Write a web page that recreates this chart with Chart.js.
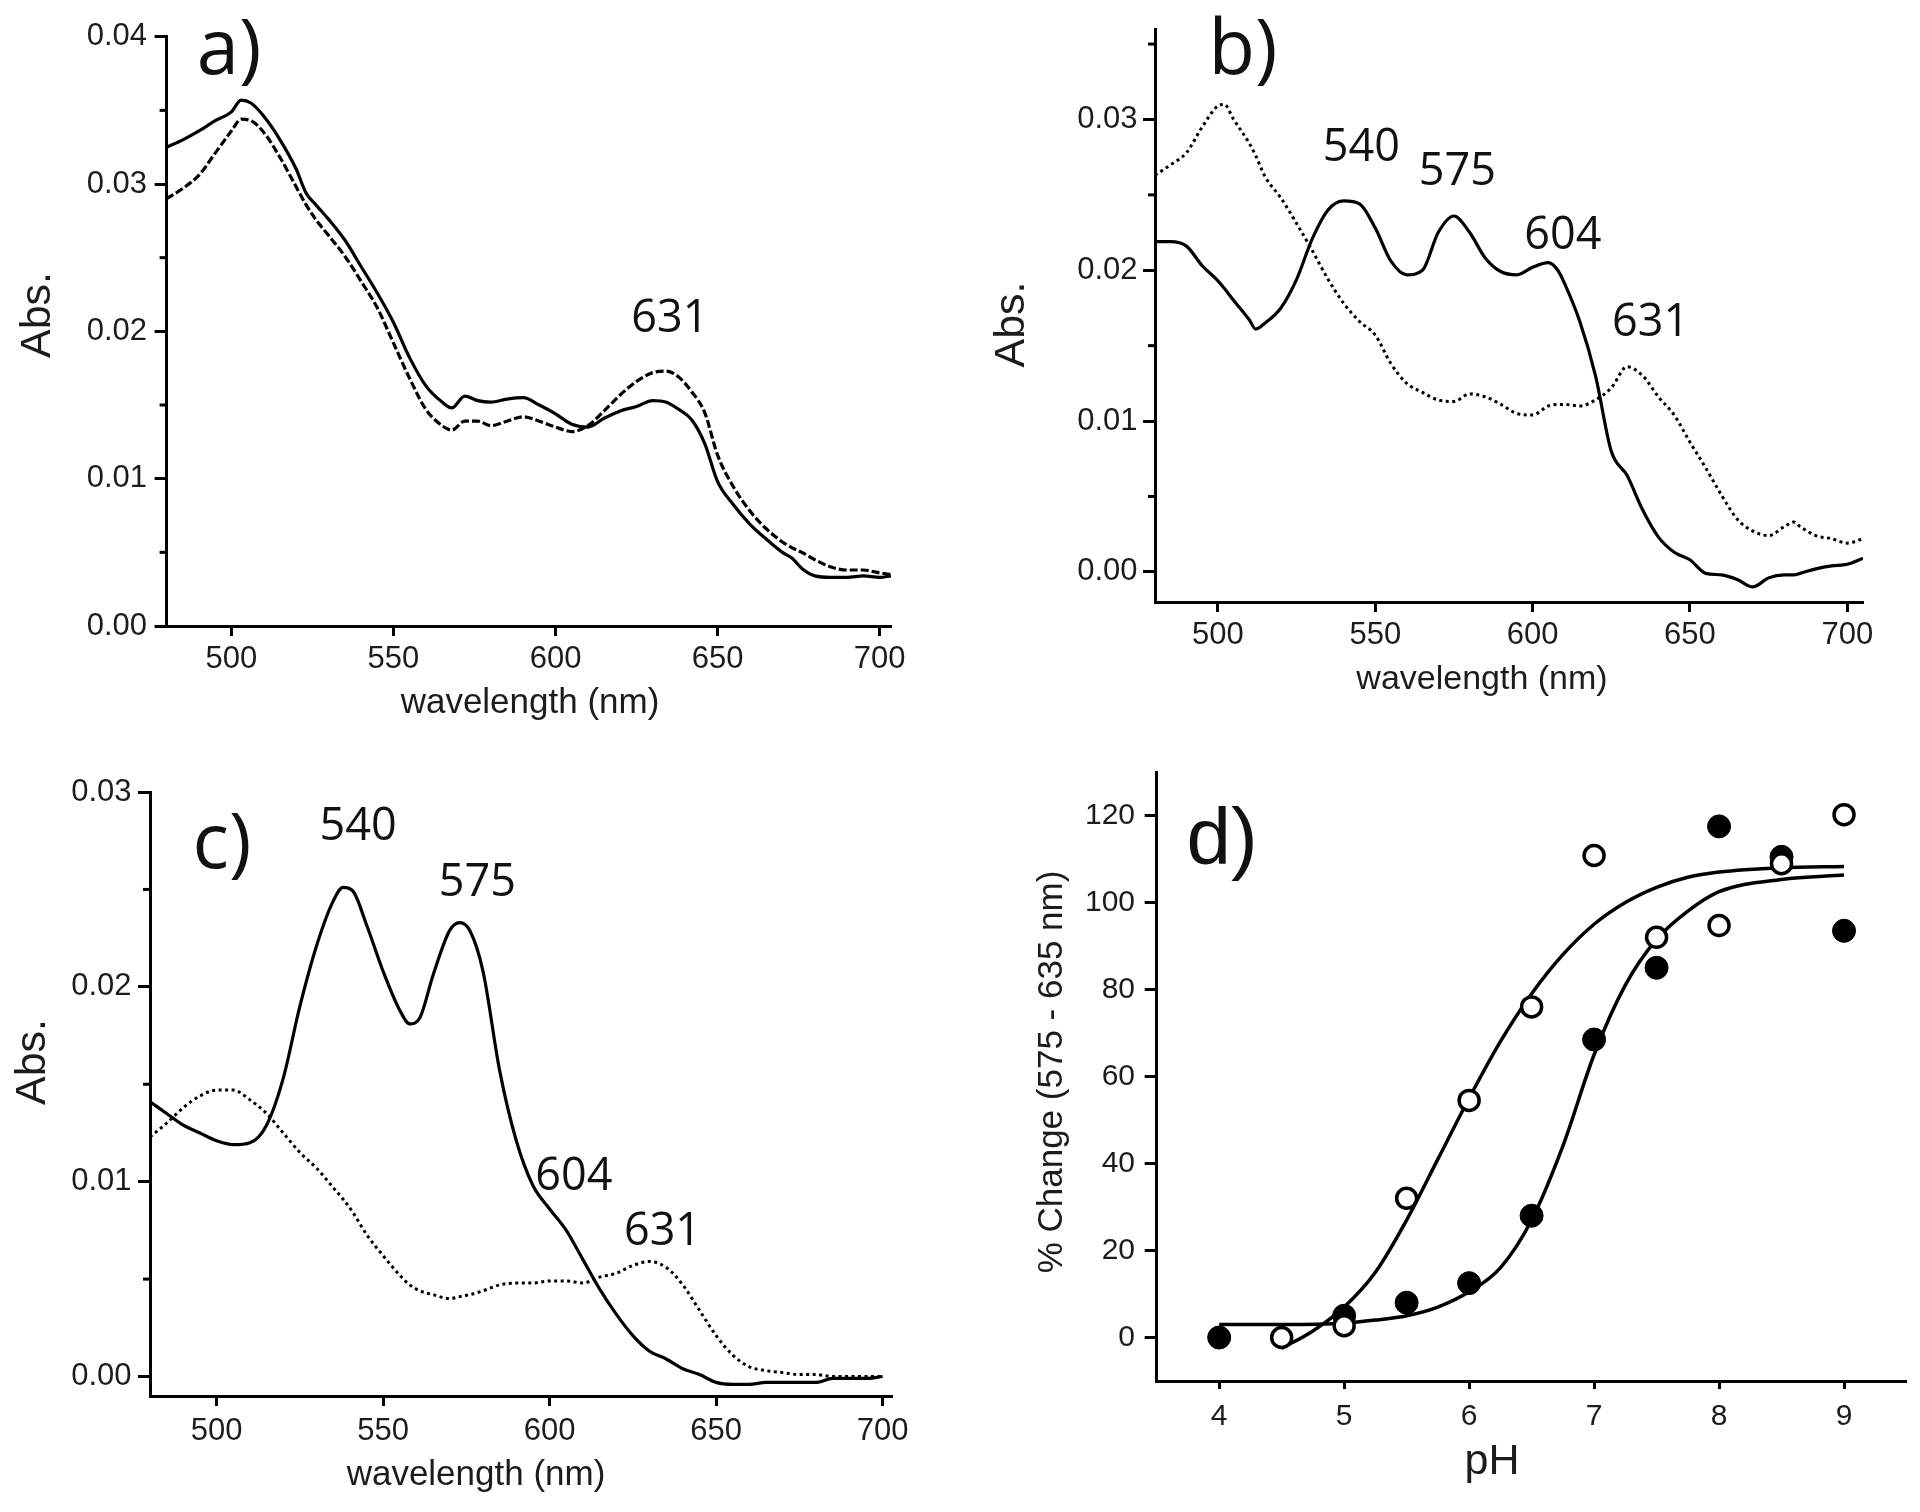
<!DOCTYPE html>
<html><head><meta charset="utf-8">
<script src="https://cdn.jsdelivr.net/npm/chart.js@4.4.1/dist/chart.umd.min.js"></script>
<style>
html,body{margin:0;padding:0;background:#fff;}
#wrap{position:relative;width:1920px;height:1512px;overflow:hidden;}
canvas{position:absolute;}
</style></head><body><div id="wrap">
<canvas id="ca" width="960" height="740" style="left:0px;top:0px"></canvas>
<canvas id="cb" width="960" height="740" style="left:960px;top:0px"></canvas>
<canvas id="cc" width="960" height="772" style="left:0px;top:740px"></canvas>
<canvas id="cd" width="960" height="772" style="left:960px;top:740px"></canvas>
</div>
<script>
// ---------- Panel a ----------
const aWave = [480,485,490,495,500,503,506,510,515,520,523,526,530,535,540,545,550,555,560,565,568,572,576,580,585,590,595,600,605,610,615,620,625,630,634,638,642,646,650,655,660,665,670,673,676,680,685,690,695,700,703.5];
const aSolid = [0.0325,0.0330,0.0336,0.0343,0.0349,0.0357,0.0355,0.0346,0.0330,0.0310,0.0294,0.0286,0.0276,0.0262,0.0244,0.0226,0.0206,0.0182,0.0163,0.0152,0.0148,0.0156,0.0153,0.0152,0.0154,0.0155,0.0150,0.0144,0.0137,0.0135,0.0141,0.0146,0.0149,0.0153,0.0152,0.0147,0.0140,0.0124,0.0098,0.0082,0.0069,0.0059,0.0050,0.0046,0.0039,0.0034,0.0033,0.0033,0.0034,0.0033,0.0034];
const aDashed = [0.0290,0.0297,0.0306,0.0321,0.0336,0.0344,0.0343,0.0335,0.0318,0.0298,0.0286,0.0276,0.0265,0.0251,0.0234,0.0216,0.0192,0.0168,0.0147,0.0136,0.0133,0.0139,0.0139,0.0136,0.0139,0.0142,0.0139,0.0135,0.0132,0.0136,0.0146,0.0157,0.0166,0.0172,0.0173,0.0169,0.0159,0.0145,0.0116,0.0094,0.0078,0.0066,0.0057,0.0053,0.0050,0.0045,0.0040,0.0038,0.0038,0.0036,0.0035];
const aYTicks = [0,0.01,0.02,0.03,0.04];
const aYMinor = [0.005,0.015,0.025,0.035];

// ---------- Panel b ----------
const bWave = [480,485,490,495,500,502,505,510,512,515,520,525,530,535,540,545,550,555,560,565,570,575,580,585,590,595,600,605,608,610,615,620,625,630,635,640,645,650,655,660,665,670,675,680,683,685,690,695,700,705];
const bSolid = [0.0219,0.0219,0.0216,0.0203,0.0193,0.0188,0.0180,0.0167,0.0161,0.0165,0.0175,0.0194,0.0221,0.0240,0.0246,0.0244,0.0228,0.0206,0.0197,0.0200,0.0225,0.0236,0.0225,0.0208,0.0199,0.0197,0.0202,0.0205,0.0200,0.0192,0.0166,0.0130,0.0080,0.0064,0.0041,0.0023,0.0013,0.0008,-0.0001,-0.0002,-0.0005,-0.0010,-0.0004,-0.0002,-0.0002,-0.0001,0.0002,0.0004,0.0005,0.0009];
const bDotted = [0.0263,0.0270,0.0278,0.0295,0.0309,0.0310,0.0300,0.0284,0.0276,0.0262,0.0248,0.0231,0.0213,0.0194,0.0178,0.0166,0.0157,0.0138,0.0125,0.0119,0.0114,0.0113,0.0118,0.0116,0.0111,0.0105,0.0104,0.0110,0.0111,0.0111,0.0110,0.0114,0.0122,0.0136,0.0130,0.0116,0.0104,0.0086,0.0069,0.0051,0.0035,0.0027,0.0024,0.0030,0.0033,0.0030,0.0024,0.0022,0.0019,0.0022];
const bYTicks = [0,0.01,0.02,0.03];
const bYMinor = [0.005,0.015,0.025,0.035];

// ---------- Panel c ----------
const cWave = [480,485,490,495,500,505,510,515,520,525,530,535,538,541,545,550,555,558,561,565,570,573,576,580,585,590,595,600,605,610,615,620,625,630,635,640,645,650,655,660,665,670,675,680,685,690,695,700];
const cSolid = [0.0141,0.0135,0.0129,0.0125,0.0121,0.0119,0.0120,0.0129,0.0153,0.0190,0.0221,0.0244,0.0251,0.0249,0.0232,0.0208,0.0188,0.0181,0.0184,0.0206,0.0229,0.0233,0.0229,0.0208,0.0157,0.0121,0.0098,0.0086,0.0075,0.0060,0.0045,0.0032,0.0021,0.0013,0.0009,0.0004,0.0001,-0.0003,-0.0004,-0.0004,-0.0003,-0.0003,-0.0003,-0.0003,-0.0001,-0.0001,-0.0001,0.0000];
const cDotted = [0.0123,0.0130,0.0138,0.0144,0.0147,0.0147,0.0142,0.0135,0.0125,0.0115,0.0107,0.0097,0.0091,0.0084,0.0073,0.0062,0.0052,0.0047,0.0044,0.0042,0.0040,0.0041,0.0042,0.0044,0.0047,0.0048,0.0048,0.0049,0.0049,0.0048,0.0051,0.0053,0.0057,0.0059,0.0056,0.0047,0.0034,0.0021,0.0011,0.0005,0.0003,0.0002,0.0001,0.0001,0.0000,0.0000,0.0000,0.0000];
const cYTicks = [0,0.01,0.02,0.03];
const cYMinor = [0.005,0.015,0.025];

const waveTicks = [500,550,600,650,700];

// ---------- Panel d ----------
const dPhFilled = [4,5,5.5,6,6.5,7,7.5,8,8.5,9];
const dFilled = [0,5,8,12.5,28,68.5,85,117.5,110.5,93.5];
const dPhOpen = [4.5,5,5.5,6,6.5,7,7.5,8,8.5,9];
const dOpen = [0,2.7,32,54.5,76,110.8,92,94.7,108.9,120.2];
const dFitFilledPh = [4,4.5,5,5.25,5.5,5.75,6,6.25,6.5,6.75,7,7.25,7.5,7.75,8,8.5,9];
const dFitFilled = [3,3,3.3,4,5,7,10.5,16,27,44,65,81,91.5,98,102.5,105.3,106.3];
const dFitOpenPh = [4.5,4.75,5,5.25,5.5,5.75,6,6.25,6.5,6.75,7,7.25,7.5,7.75,8,8.5,9];
const dFitOpen = [-2.5,1.5,7,15,27,41,55,68,79,88,95,100,103.5,105.8,107,108,108.3];
const dXTicks = [4,5,6,7,8,9];
const dYTicks = [0,20,40,60,80,100,120];

// ---------- helpers ----------
const pts = (xs, ys) => xs.map((x, i) => ({x: x, y: ys[i]}));
const TXT = '#1c1c1c';
const ARIAL = "'Liberation Sans', Arial, sans-serif";
const CAL = "'Open Sans', 'Noto Sans', sans-serif";

const textPlugin = {
  id: 'texts',
  afterDraw(chart, args, opts) {
    const ctx = chart.ctx;
    const off = opts.offset || [0, 0];
    (opts.items || []).forEach(it => {
      let x, y;
      if (it.data) {
        x = chart.scales.x.getPixelForValue(it.data[0]);
        y = chart.scales.y.getPixelForValue(it.data[1]);
      } else {
        x = it.px[0] - off[0];
        y = it.px[1] - off[1];
      }
      ctx.save();
      ctx.translate(x, y);
      if (it.rot) ctx.rotate(it.rot);
      ctx.font = it.font;
      ctx.fillStyle = it.color || TXT;
      ctx.textAlign = 'center';
      ctx.textBaseline = 'middle';
      ctx.fillText(it.text, 0, 0);
      ctx.restore();
    });
  }
};
const minorPlugin = {
  id: 'minorTicks',
  afterDraw(chart, args, opts) {
    const vals = opts.values || [];
    if (!vals.length) return;
    const s = chart.scales.y;
    const ctx = chart.ctx;
    ctx.save();
    ctx.strokeStyle = '#000';
    ctx.lineWidth = 3;
    vals.forEach(v => {
      const y = s.getPixelForValue(v);
      ctx.beginPath();
      ctx.moveTo(chart.chartArea.left - (opts.len || 7), y);
      ctx.lineTo(chart.chartArea.left, y);
      ctx.stroke();
    });
    ctx.restore();
  }
};
Chart.register(textPlugin, minorPlugin);

function axisX(min, max, ticks, h, pad, fontSize, tl) {
  return {
    type: 'linear', min: min, max: max,
    afterBuildTicks: s => { s.ticks = ticks.map(v => ({value: v})); },
    afterFit: s => { s.height = h; },
    border: {display: true, color: '#000', width: 3},
    grid: {display: true, drawOnChartArea: false, drawTicks: true, tickLength: tl, tickWidth: 3, tickColor: '#000'},
    ticks: {color: TXT, padding: pad, maxRotation: 0, autoSkip: false, font: {family: ARIAL, size: fontSize},
      callback: v => String(v)}
  };
}
function axisY(min, max, ticks, w, pad, fontSize, fmt) {
  return {
    type: 'linear', min: min, max: max,
    afterBuildTicks: s => { s.ticks = ticks.map(v => ({value: v})); },
    afterFit: s => { s.width = w; },
    border: {display: true, color: '#000', width: 3},
    grid: {display: true, drawOnChartArea: false, drawTicks: true, tickLength: 12, tickWidth: 3, tickColor: '#000'},
    ticks: {color: TXT, padding: pad, autoSkip: false, font: {family: ARIAL, size: fontSize}, callback: fmt}
  };
}
const fmt2 = v => v.toFixed(2);
const fmt0 = v => String(Math.round(v));

function lineDs(xs, ys, dash, width) {
  return {data: pts(xs, ys), showLine: true, borderColor: '#000', borderWidth: width || 3.2,
    borderDash: dash || [], pointRadius: 0, cubicInterpolationMode: 'monotone', fill: false, order: 2};
}
function baseOpts(padding, scales, texts, offset, minor) {
  return {
    responsive: false, animation: false, devicePixelRatio: 1,
    layout: {padding: padding},
    scales: scales,
    plugins: {legend: {display: false}, tooltip: {enabled: false},
      texts: {items: texts, offset: offset}, minorTicks: {values: minor, len: 7}}
  };
}

// ---------- Panel a ----------
new Chart(document.getElementById('ca'), {
  type: 'scatter',
  data: {datasets: [lineDs(aWave, aSolid), lineDs(aWave, aDashed, [8, 3])]},
  options: baseOpts({left: 0, top: 36.7, right: 69, bottom: 20},
    {x: axisX(480, 703.5, waveTicks, 94, 5, 31, 10), y: axisY(0, 0.04, aYTicks, 166.6, 7.6, 31, fmt2)},
    [
      {text: 'a)', px: [229, 52], font: "76px " + CAL, color: '#111'},
      {text: '631', data: [635.3, 0.0208], font: "45px " + CAL, color: '#111'},
      {text: 'Abs.', px: [38, 315], rot: -Math.PI / 2, font: "43px " + ARIAL},
      {text: 'wavelength (nm)', px: [530, 703], font: "35px " + ARIAL}
    ], [0, 0], aYMinor)
});

// ---------- Panel b ----------
new Chart(document.getElementById('cb'), {
  type: 'scatter',
  data: {datasets: [lineDs(bWave, bSolid), lineDs(bWave, bDotted, [3, 3.5], 3)]},
  options: baseOpts({left: 0, top: 29, right: 57, bottom: 20},
    {x: axisX(480, 705, waveTicks, 118, 4.4, 31, 10), y: axisY(-0.002, 0.036, bYTicks, 195, 5.4, 31, fmt2)},
    [
      {text: 'b)', px: [1243, 52], font: "76px " + CAL, color: '#111'},
      {text: '540', data: [545.6, 0.0281], font: "45px " + CAL, color: '#111'},
      {text: '575', data: [576.1, 0.0265], font: "45px " + CAL, color: '#111'},
      {text: '604', data: [609.6, 0.02227], font: "45px " + CAL, color: '#111'},
      {text: '631', data: [637.5, 0.01652], font: "45px " + CAL, color: '#111'},
      {text: 'Abs.', px: [1012, 324.5], rot: -Math.PI / 2, font: "43px " + ARIAL},
      {text: 'wavelength (nm)', px: [1482, 680], font: "34px " + ARIAL}
    ], [960, 0], bYMinor)
});

// ---------- Panel c ----------
new Chart(document.getElementById('cc'), {
  type: 'scatter',
  data: {datasets: [lineDs(cWave, cSolid), lineDs(cWave, cDotted, [3, 3.5], 3)]},
  options: baseOpts({left: 0, top: 52, right: 67.4, bottom: 20},
    {x: axisX(480, 703, waveTicks, 96, 6.5, 31, 10), y: axisY(-0.001, 0.03, cYTicks, 150, 6.4, 31, fmt2)},
    [
      {text: 'c)', px: [222, 846], font: "76px " + CAL, color: '#111'},
      {text: '540', data: [542.5, 0.02818], font: "45px " + CAL, color: '#111'},
      {text: '575', data: [578.3, 0.02533], font: "45px " + CAL, color: '#111'},
      {text: '604', data: [607.3, 0.01024], font: "45px " + CAL, color: '#111'},
      {text: '631', data: [633.9, 0.00739], font: "45px " + CAL, color: '#111'},
      {text: 'Abs.', px: [33, 1062], rot: -Math.PI / 2, font: "43px " + ARIAL},
      {text: 'wavelength (nm)', px: [476, 1475], font: "35px " + ARIAL}
    ], [0, 740], cYMinor)
});

// ---------- Panel d ----------
new Chart(document.getElementById('cd'), {
  type: 'scatter',
  data: {datasets: [
    Object.assign(lineDs(dFitFilledPh, dFitFilled, [], 3.5), {order: 3}),
    Object.assign(lineDs(dFitOpenPh, dFitOpen, [], 3.5), {order: 3}),
    {data: pts(dPhFilled, dFilled), pointRadius: 11.5, backgroundColor: '#000', borderColor: '#000', borderWidth: 1, showLine: false, order: 1},
    {data: pts(dPhOpen, dOpen), pointRadius: 10, backgroundColor: '#fff', borderColor: '#000', borderWidth: 3.5, showLine: false, order: 0}
  ]},
  options: baseOpts({left: 0, top: 32, right: 12.3, bottom: 20},
    {x: axisX(3.5, 9.5, dXTicks, 111, 10, 30, 8), y: axisY(-10, 130, dYTicks, 196.7, 9.7, 30, fmt0)},
    [
      {text: 'd)', px: [1222, 842], font: "80px " + ARIAL, color: '#111'},
      {text: '% Change (575 - 635 nm)', px: [1052, 1072], rot: -Math.PI / 2, font: "35px " + ARIAL},
      {text: 'pH', px: [1492, 1462], font: "43px " + ARIAL}
    ], [960, 740], [])
});
</script>
</body></html>
